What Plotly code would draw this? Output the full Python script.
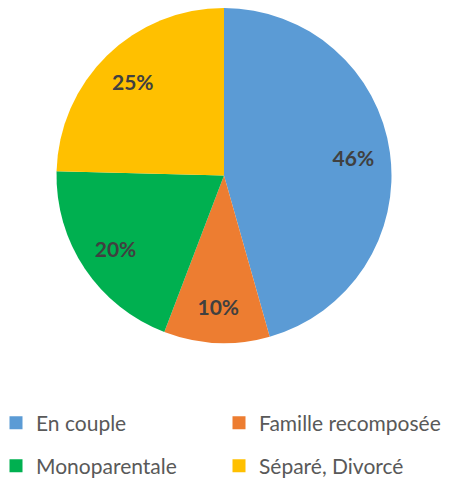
import plotly.graph_objects as go

categories = ["En couple", "Famille recomposée", "Monoparentale", "Séparé, Divorcé"]
values = [45.6, 10.2, 19.6, 24.6]
colors = ["#5B9BD5", "#ED7D31", "#00B050", "#FFC000"]
legend_rows = ["legend", "legend", "legend2", "legend2"]

W, H = 450, 478
MB = 130                 # bottom margin (legend area)
PH = H - MB              # plot-area height
dom = dict(x=[48/W, 384/W], y=[1-335/PH, 1])

# coloured pie
fig = go.Figure(go.Pie(
    labels=categories,
    values=values,
    sort=False,
    direction="clockwise",
    rotation=0,
    marker=dict(colors=colors, line=dict(width=0)),
    textinfo="none",
    domain=dom,
    hoverinfo="label+percent",
    showlegend=False,
))

# transparent ring on top carrying the percentage labels (placed further out, like Excel)
fig.add_trace(go.Pie(
    labels=categories,
    values=values,
    sort=False,
    direction="clockwise",
    rotation=0,
    hole=0.56,
    marker=dict(colors=["rgba(0,0,0,0)"] * len(categories), line=dict(width=0)),
    texttemplate="%{percent:.0%}",
    textposition="inside",
    insidetextorientation="horizontal",
    textfont=dict(family="Lato", size=21, color="#404040", weight="bold"),
    domain=dom,
    hoverinfo="skip",
    showlegend=False,
))

# legend entries (two rows of two)
for cat, col, lg in zip(categories, colors, legend_rows):
    fig.add_trace(go.Scatter(
        x=[None], y=[None], mode="markers", name=cat,
        marker=dict(symbol="square", size=13, color=col),
        legend=lg, showlegend=True, hoverinfo="skip",
    ))

leg_common = dict(
    orientation="h",
    xanchor="left", yanchor="middle",
    entrywidth=178, entrywidthmode="pixels",
    font=dict(family="Lato", size=21, color="#595959"),
    itemclick=False, itemdoubleclick=False,
    bgcolor="rgba(0,0,0,0)",
)

fig.update_layout(
    width=W, height=H,
    margin=dict(l=0, r=0, t=0, b=MB, autoexpand=False),
    paper_bgcolor="white",
    plot_bgcolor="white",
    xaxis=dict(visible=False),
    yaxis=dict(visible=False),
    legend=dict(x=-12/W, y=(PH-415)/PH, **leg_common),
    legend2=dict(x=-12/W, y=(PH-458)/PH, **leg_common),
)

fig.write_html("out.html")
